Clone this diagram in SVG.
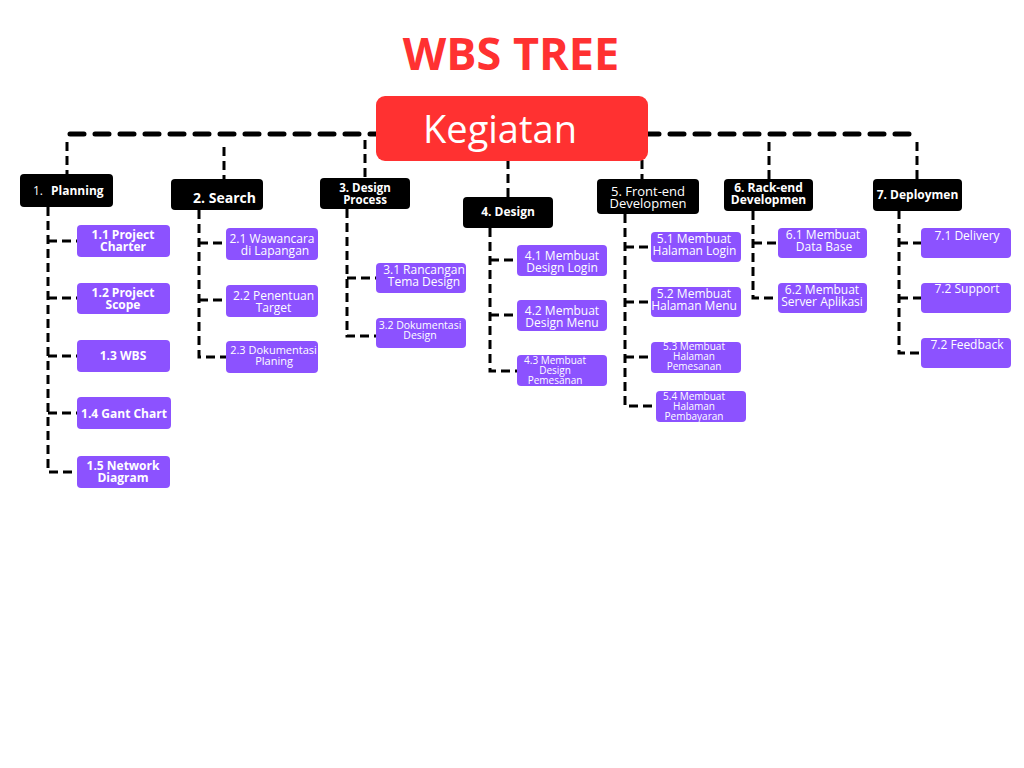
<svg xmlns="http://www.w3.org/2000/svg" width="1024" height="768" viewBox="0 0 1024 768">
  <style>
    .title { font-family: "Open Sans", "Liberation Sans", sans-serif; font-weight: 700; font-size: 45px; fill: #FF3131; text-anchor: middle; }
    .root-box { fill: #FF3131; }
    .root-text { font-family: "Open Sans", "Liberation Sans", sans-serif; font-size: 38px; fill: #FFFFFF; text-anchor: middle; }
    .l1-box { fill: #000000; }
    .l1 { font-family: "Open Sans", "Liberation Sans", sans-serif; font-weight: 700; font-size: 12px; fill: #FFFFFF; text-anchor: middle; }
    .l1r { font-family: "Open Sans", "Liberation Sans", sans-serif; font-weight: 400; font-size: 13px; fill: #FFFFFF; text-anchor: middle; }
    .task-box { fill: #8C52FF; }
    .tb { font-family: "Open Sans", "Liberation Sans", sans-serif; font-weight: 700; font-size: 12px; fill: #FFFFFF; text-anchor: middle; }
    .t { font-family: "Open Sans", "Liberation Sans", sans-serif; font-weight: 400; font-size: 12px; fill: #FFFFFF; text-anchor: middle; }
    .ts { font-family: "Open Sans", "Liberation Sans", sans-serif; font-weight: 400; font-size: 10px; fill: #FFFFFF; text-anchor: middle; }
    .main-line { fill: none; stroke: #000; stroke-width: 5; stroke-linecap: round; stroke-dasharray: 14 11; }
    .link { fill: none; stroke: #000; stroke-width: 3; stroke-dasharray: 9 5; }
  </style>

  <text class="title" x="511" y="70">WBS TREE</text>

  <!-- dashed tree links -->
  <g id="connectors">
    <path class="main-line" d="M70 134 H917"/>
    <path class="link" d="M67 142 V174"/>
    <path class="link" d="M224 147 V179"/>
    <path class="link" d="M365 140 V178"/>
    <path class="link" d="M508 160 V197"/>
    <path class="link" d="M642 160 V180"/>
    <path class="link" d="M769 142 V179"/>
    <path class="link" d="M917 142 V179"/>

    <!-- 1. Planning -->
    <path class="link" d="M48 207 V472 H77"/>
    <path class="link" d="M48 241 H77 M48 298 H77 M48 356 H77 M48 413 H77"/>
    <!-- 2. Search -->
    <path class="link" d="M199 210 V357 H226"/>
    <path class="link" d="M199 243 H226 M199 300 H226"/>
    <!-- 3. Design Process -->
    <path class="link" d="M347 209 V336 H376"/>
    <path class="link" d="M347 278 H376"/>
    <!-- 4. Design -->
    <path class="link" d="M490 228 V371 H517"/>
    <path class="link" d="M490 260 H517 M490 315 H517"/>
    <!-- 5. Front-end -->
    <path class="link" d="M625 214 V406 H656"/>
    <path class="link" d="M625 247 H651 M625 302 H651 M625 357 H651"/>
    <!-- 6. Back-end -->
    <path class="link" d="M753 211 V298 H778"/>
    <path class="link" d="M753 243 H778"/>
    <!-- 7. Deploymen -->
    <path class="link" d="M899 210 V353 H921"/>
    <path class="link" d="M899 243 H921 M899 298 H921"/>
  </g>

  <g id="kegiatan">
    <rect class="root-box" x="376" y="96" width="272" height="65" rx="9"/>
    <text class="root-text" x="500" y="143">Kegiatan</text>
  </g>

  <!-- level 1 -->
  <g id="planning">
    <rect class="l1-box" x="20" y="174" width="93" height="33" rx="4"/>
    <text x="33" y="195" style="font-family:'Open Sans','Liberation Sans',sans-serif;font-size:12px;fill:#fff">1.<tspan x="51" style="font-weight:700">Planning</tspan></text>
  </g>
  <g id="search">
    <rect class="l1-box" x="171" y="179" width="92" height="31" rx="4"/>
    <text class="l1" x="224.5" y="203" style="font-size:14px">2. Search</text>
  </g>
  <g id="design-process">
    <rect class="l1-box" x="320" y="178" width="90" height="31" rx="4"/>
    <text class="l1" y="192" style="font-size:11.5px"><tspan x="365">3. Design</tspan><tspan x="365" dy="12">Process</tspan></text>
  </g>
  <g id="design">
    <rect class="l1-box" x="463" y="197" width="90" height="31" rx="4"/>
    <text class="l1" x="508" y="216">4. Design</text>
  </g>
  <g id="front-end">
    <rect class="l1-box" x="597" y="179" width="102" height="35" rx="4"/>
    <text class="l1r" y="196"><tspan x="648">5. Front-end</tspan><tspan x="648" dy="12">Developmen</tspan></text>
  </g>
  <g id="back-end">
    <rect class="l1-box" x="724" y="179" width="89" height="32" rx="4"/>
    <text class="l1" y="192"><tspan x="768.5">6. Rack-end</tspan><tspan x="768.5" dy="12">Developmen</tspan></text>
  </g>
  <g id="deploymen">
    <rect class="l1-box" x="873" y="179" width="89" height="32" rx="4"/>
    <text class="l1" x="917.5" y="199">7. Deploymen</text>
  </g>

  <!-- 1.x -->
  <g id="task-1-1">
    <rect class="task-box" x="77" y="225" width="93" height="32" rx="4"/>
    <text class="tb" y="239"><tspan x="123">1.1 Project</tspan><tspan x="123" dy="12">Charter</tspan></text>
  </g>
  <g id="task-1-2">
    <rect class="task-box" x="77" y="283" width="93" height="31" rx="4"/>
    <text class="tb" y="297"><tspan x="123">1.2 Project</tspan><tspan x="123" dy="12">Scope</tspan></text>
  </g>
  <g id="task-1-3">
    <rect class="task-box" x="77" y="340" width="93" height="32" rx="4"/>
    <text class="tb" x="123" y="360">1.3 WBS</text>
  </g>
  <g id="task-1-4">
    <rect class="task-box" x="77" y="397" width="94" height="32" rx="4"/>
    <text class="tb" x="124" y="418">1.4 Gant Chart</text>
  </g>
  <g id="task-1-5">
    <rect class="task-box" x="77" y="456" width="93" height="32" rx="4"/>
    <text class="tb" y="470"><tspan x="123">1.5 Network</tspan><tspan x="123" dy="12">Diagram</tspan></text>
  </g>

  <!-- 2.x -->
  <g id="task-2-1">
    <rect class="task-box" x="226" y="228" width="92" height="32" rx="4"/>
    <text class="t" y="243"><tspan x="272">2.1 Wawancara</tspan><tspan x="275" dy="11.5">di Lapangan</tspan></text>
  </g>
  <g id="task-2-2">
    <rect class="task-box" x="226" y="285" width="92" height="32" rx="4"/>
    <text class="t" y="300"><tspan x="273.5">2.2 Penentuan</tspan><tspan x="273.5" dy="11.5">Target</tspan></text>
  </g>
  <g id="task-2-3">
    <rect class="task-box" x="226" y="341" width="92" height="32" rx="4"/>
    <text class="t" y="354" style="font-size:11px"><tspan x="273.5">2.3 Dokumentasi</tspan><tspan x="274" dy="11">Planing</tspan></text>
  </g>

  <!-- 3.x -->
  <g id="task-3-1">
    <rect class="task-box" x="376" y="263" width="90" height="30" rx="4"/>
    <text class="t" y="274"><tspan x="424">3.1 Rancangan</tspan><tspan x="424" dy="12">Tema Design</tspan></text>
  </g>
  <g id="task-3-2">
    <rect class="task-box" x="376" y="318" width="90" height="30" rx="4"/>
    <text class="t" y="329" style="font-size:10.5px"><tspan x="420">3.2 Dokumentasi</tspan><tspan x="420" dy="10">Design</tspan></text>
  </g>

  <!-- 4.x -->
  <g id="task-4-1">
    <rect class="task-box" x="517" y="245" width="90" height="31" rx="4"/>
    <text class="t" y="260"><tspan x="562">4.1 Membuat</tspan><tspan x="562" dy="12">Design Login</tspan></text>
  </g>
  <g id="task-4-2">
    <rect class="task-box" x="517" y="300" width="90" height="31" rx="4"/>
    <text class="t" y="315"><tspan x="562">4.2 Membuat</tspan><tspan x="562" dy="11.5">Design Menu</tspan></text>
  </g>
  <g id="task-4-3">
    <rect class="task-box" x="517" y="355" width="90" height="31" rx="4"/>
    <text class="ts" y="364"><tspan x="555">4.3 Membuat</tspan><tspan x="555" dy="10">Design</tspan><tspan x="555" dy="10">Pemesanan</tspan></text>
  </g>

  <!-- 5.x -->
  <g id="task-5-1">
    <rect class="task-box" x="651" y="232" width="90" height="30" rx="4"/>
    <text class="t" y="243"><tspan x="694">5.1 Membuat</tspan><tspan x="694.5" dy="12">Halaman Login</tspan></text>
  </g>
  <g id="task-5-2">
    <rect class="task-box" x="651" y="287" width="90" height="30" rx="4"/>
    <text class="t" y="298"><tspan x="694">5.2 Membuat</tspan><tspan x="694" dy="11.5">Halaman Menu</tspan></text>
  </g>
  <g id="task-5-3">
    <rect class="task-box" x="651" y="342" width="90" height="31" rx="4"/>
    <text class="ts" y="350"><tspan x="694">5.3 Membuat</tspan><tspan x="694" dy="10">Halaman</tspan><tspan x="694" dy="10">Pemesanan</tspan></text>
  </g>
  <g id="task-5-4">
    <rect class="task-box" x="656" y="391" width="90" height="31" rx="4"/>
    <text class="ts" y="400"><tspan x="694">5.4 Membuat</tspan><tspan x="694" dy="10">Halaman</tspan><tspan x="694" dy="10">Pembayaran</tspan></text>
  </g>

  <!-- 6.x -->
  <g id="task-6-1">
    <rect class="task-box" x="778" y="228" width="89" height="30" rx="4"/>
    <text class="t" y="239"><tspan x="823">6.1 Membuat</tspan><tspan x="824" dy="12">Data Base</tspan></text>
  </g>
  <g id="task-6-2">
    <rect class="task-box" x="778" y="283" width="89" height="30" rx="4"/>
    <text class="t" y="294"><tspan x="822">6.2 Membuat</tspan><tspan x="822" dy="12">Server Aplikasi</tspan></text>
  </g>

  <!-- 7.x -->
  <g id="task-7-1">
    <rect class="task-box" x="921" y="228" width="90" height="30" rx="4"/>
    <text class="t" x="967" y="240">7.1 Delivery</text>
  </g>
  <g id="task-7-2">
    <rect class="task-box" x="921" y="283" width="90" height="30" rx="4"/>
    <text class="t" x="967" y="293">7.2 Support</text>
  </g>
  <g id="task-7-3">
    <rect class="task-box" x="921" y="338" width="90" height="30" rx="4"/>
    <text class="t" x="967" y="349">7.2 Feedback</text>
  </g>
</svg>
